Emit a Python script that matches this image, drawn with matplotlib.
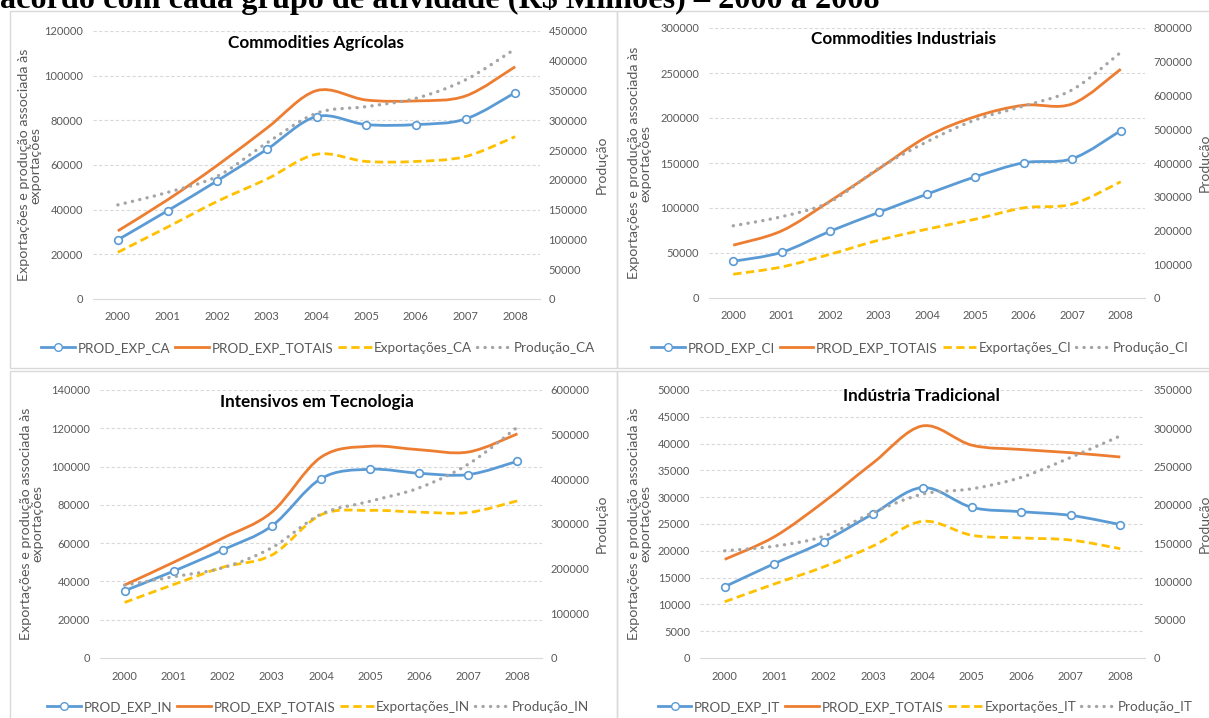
import numpy as np
import matplotlib
matplotlib.use("Agg")
import matplotlib.pyplot as plt
from matplotlib.path import Path
from matplotlib.patches import PathPatch, Rectangle
from matplotlib.lines import Line2D

plt.rcParams['font.family'] = ['Lato', 'DejaVu Sans']

W, H = 1209, 718

# --- dados (R$ milhões) ---
years = [2000, 2001, 2002, 2003, 2004, 2005, 2006, 2007, 2008]

prod_exp_ca = [26500, 39500, 52900, 67000, 81700, 78100, 78100, 80600, 92400]
totais_ca = [30500, 44400, 59800, 76500, 93300, 89100, 88700, 90900, 104000]
export_ca = [20900, 32200, 43700, 53700, 64800, 61600, 61600, 63800, 72700]
producao_ca = [158000, 179000, 206000, 262000, 312000, 323000, 337000, 368000, 420000]

prod_exp_ci = [40800, 50800, 74200, 95000, 115400, 134700, 150300, 154800, 186000]
totais_ci = [58700, 74600, 107700, 143300, 179300, 201600, 214200, 215700, 254300]
export_ci = [26400, 34500, 48600, 64200, 76500, 87600, 100200, 104300, 129200]
producao_ci = [214000, 241000, 285000, 384000, 463000, 528000, 569000, 617000, 728000]

prod_exp_in = [35100, 45400, 56500, 69000, 93700, 98600, 96500, 95800, 102800]
totais_in = [38100, 50000, 62600, 76200, 104900, 110600, 108800, 107600, 117100]
export_in = [29000, 38400, 47400, 53800, 74800, 77100, 76200, 76000, 82100]
producao_in = [163000, 182000, 202000, 247000, 322000, 351000, 381000, 434000, 517000]

prod_exp_it = [13300, 17600, 21700, 26900, 31800, 28100, 27300, 26600, 24900]
totais_it = [18400, 22600, 29100, 36400, 43300, 39700, 38900, 38300, 37500]
export_it = [10500, 13800, 17000, 20900, 25500, 22900, 22400, 22000, 20400]
producao_it = [140000, 146000, 159000, 190000, 214000, 221000, 236000, 262000, 290000]

BLUE, ORANGE, GOLD, GRAY = '#5B9BD5', '#ED7D31', '#FFC000', '#A5A5A5'
TXT = '#595959'
GRID = '#D9D9D9'
DASH = (0, (3, 1.6))
DOT = (0, (0.05, 2.2))


def px_rect(x0, y0, x1, y1):
    return [x0 / W, 1 - y1 / H, (x1 - x0) / W, (y1 - y0) / H]


def smooth_path(x, y):
    # curva suavizada estilo Excel (Bezier / Catmull-Rom)
    pts = np.column_stack([x, y]).astype(float)
    n = len(pts)
    verts, codes = [pts[0]], [Path.MOVETO]
    for i in range(n - 1):
        p0 = pts[i - 1] if i > 0 else pts[i]
        p1, p2 = pts[i], pts[i + 1]
        p3 = pts[i + 2] if i + 2 < n else pts[i + 1]
        verts += [p1 + (p2 - p0) / 6, p2 - (p3 - p1) / 6, p2]
        codes += [Path.CURVE4] * 3
    return Path(verts, codes)


def add_curve(ax, y, color, ls='-', lw=2.0, cap='butt'):
    patch = PathPatch(smooth_path(years, y), fill=False, edgecolor=color,
                      lw=lw, linestyle=ls, capstyle=cap, joinstyle='round')
    ax.add_patch(patch)


fig = plt.figure(figsize=(W / 100, H / 100), dpi=100)

# bordas dos quadros
for (x0, y0, x1, y1) in [(10, 11, 617, 368), (617, 11, 1215, 368),
                         (10, 371, 617, 725), (617, 371, 1215, 725)]:
    fig.add_artist(Rectangle((x0 / W, 1 - y1 / H), (x1 - x0) / W, (y1 - y0) / H,
                             transform=fig.transFigure, fill=False,
                             edgecolor=GRID, lw=1.0))

panels = [
    dict(rect=(93, 31, 540, 299), title='Commodities Agrícolas', tpos=(316, 43),
         suf='CA', data=(prod_exp_ca, totais_ca, export_ca, producao_ca),
         ymax=120000, ystep=20000, y2max=450000, y2step=50000,
         ylab_x=30, prod_x=602, leg=(318, 348)),
    dict(rect=(709, 28, 1145, 298), title='Commodities Industriais', tpos=(904, 39),
         suf='CI', data=(prod_exp_ci, totais_ci, export_ci, producao_ci),
         ymax=300000, ystep=50000, y2max=800000, y2step=100000,
         ylab_x=640, prod_x=1205, leg=(920, 348)),
    dict(rect=(100, 390, 542, 658), title='Intensivos em Tecnologia', tpos=(317, 402),
         suf='IN', data=(prod_exp_in, totais_in, export_in, producao_in),
         ymax=140000, ystep=20000, y2max=600000, y2step=100000,
         ylab_x=32, prod_x=602, leg=(318, 707)),
    dict(rect=(700, 390, 1145, 658), title='Indústria Tradicional', tpos=(921, 396),
         suf='IT', data=(prod_exp_it, totais_it, export_it, producao_it),
         ymax=50000, ystep=5000, y2max=350000, y2step=50000,
         ylab_x=640, prod_x=1205, leg=(925, 707)),
]

for p in panels:
    ax = fig.add_axes(px_rect(*p['rect']))
    ax2 = ax.twinx()
    pe, tot, exp_, prod = p['data']

    ax.set_xlim(1999.5, 2008.5)
    ax.set_ylim(0, p['ymax'])
    ax.set_yticks(np.arange(0, p['ymax'] + 1, p['ystep']))
    ax.set_xticks(years)
    ax.set_xticklabels([str(v) for v in years])
    ax2.set_ylim(0, p['y2max'])
    ax2.set_yticks(np.arange(0, p['y2max'] + 1, p['y2step']))

    ax.grid(axis='y', color=GRID, lw=0.8, ls=(0, (3, 2)))
    ax.set_axisbelow(True)
    for a in (ax, ax2):
        for s in a.spines.values():
            s.set_visible(False)
        a.tick_params(length=0, labelsize=8, labelcolor=TXT)
    ax.spines['bottom'].set_visible(True)
    ax.spines['bottom'].set_color(GRID)
    ax.tick_params(axis='y', pad=7)
    ax.tick_params(axis='x', pad=9)
    ax2.tick_params(axis='y', pad=6)
    ax.yaxis.get_gridlines()[0].set_visible(False)

    add_curve(ax, tot, ORANGE)
    add_curve(ax, exp_, GOLD, ls=DASH)
    add_curve(ax, pe, BLUE)
    ax.plot(years, pe, ls='none', marker='o', ms=5.5, mfc='white', mec=BLUE,
            mew=1.2, zorder=5)
    add_curve(ax2, prod, GRAY, ls=DOT, lw=2.4, cap='round')

    fig.text(p['tpos'][0] / W, 1 - p['tpos'][1] / H, p['title'], ha='center',
             va='center', fontsize=12.3, fontweight='bold', color='black')

    ycen = 1 - ((p['rect'][1] + p['rect'][3]) / 2) / H
    fig.text(p['ylab_x'] / W, ycen,
             'Exportações e produção associada às\nexportações', rotation=90,
             ha='center', va='center', multialignment='center',
             fontsize=10.3, color=TXT, linespacing=0.95)
    fig.text(p['prod_x'] / W, ycen, 'Produção', rotation=90, ha='center',
             va='center', fontsize=10, color=TXT)

    s = p['suf']
    handles = [
        Line2D([], [], color=BLUE, lw=2, marker='o', ms=5.5, mfc='white', mec=BLUE),
        Line2D([], [], color=ORANGE, lw=2),
        Line2D([], [], color=GOLD, lw=2, ls=DASH),
        Line2D([], [], color=GRAY, lw=2.4, ls=DOT, dash_capstyle='round'),
    ]
    labels = ['PROD_EXP_' + s, 'PROD_EXP_TOTAIS', 'Exportações_' + s,
              'Produção_' + s]
    fig.legend(handles, labels, loc='center',
               bbox_to_anchor=(p['leg'][0] / W, 1 - p['leg'][1] / H),
               ncol=4, frameon=False, fontsize=9.7, handlelength=2.5,
               handletextpad=0.2, columnspacing=0.35, labelcolor=TXT,
               borderpad=0)

# título cortado no topo
title = fig.text(0, 1 - 8 / H, 'acordo com cada grupo de atividade (R$ Milhões) – 2000 a 2008',
                 ha='left', va='baseline', fontsize=20, fontweight='bold',
                 family='Liberation Serif', color='black')
fig.canvas.draw()
wpx = title.get_window_extent().width
title.set_fontsize(20 * 880 / wpx)

fig.savefig('out.png', dpi=100)
